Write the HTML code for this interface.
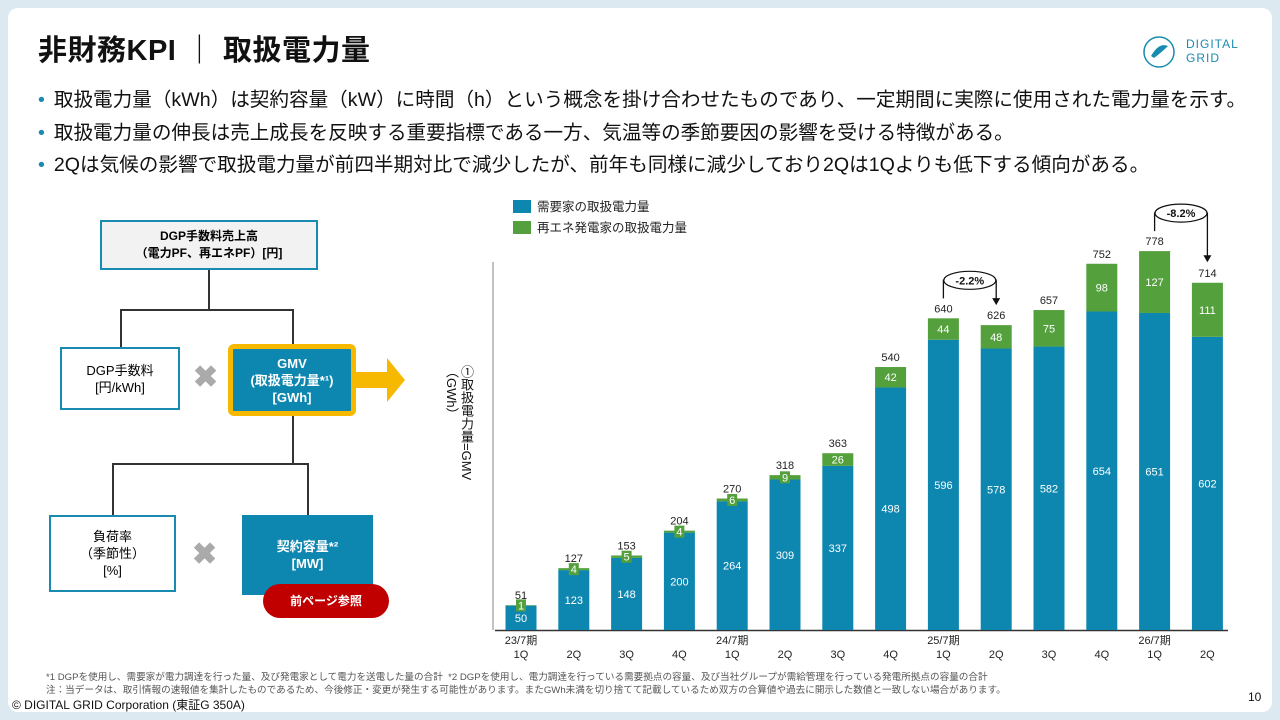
<!DOCTYPE html>
<html><head><meta charset="utf-8">
<style>
body{margin:0;width:1280px;height:720px;overflow:hidden;background:#dce9f1;font-family:"Liberation Sans","Noto Sans CJK JP",sans-serif;position:relative}
.card{position:absolute;left:8px;top:8px;width:1264px;height:704px;background:#fff;border-radius:10px}
.abs{position:absolute}
.title{left:38px;top:27px;font-size:29px;font-weight:bold;color:#111;letter-spacing:0.5px}
.bul{left:38px;font-size:19.6px;color:#111;white-space:nowrap}
.bul:before{content:"•";color:#1a8bb0;margin-right:9px}
.box{position:absolute;box-sizing:border-box;display:flex;align-items:center;justify-content:center;text-align:center;font-size:13px;line-height:17px}
.ln{position:absolute;background:#333}
.x{position:absolute;font-size:30px;color:#aaa;font-weight:bold}
</style></head><body>
<div class="card"></div>
<div class="abs title">非財務KPI&nbsp;｜&nbsp;取扱電力量</div>
<div class="abs bul" style="top:83px">取扱電力量（kWh）は契約容量（kW）に時間（h）という概念を掛け合わせたものであり、一定期間に実際に使用された電力量を示す。</div>
<div class="abs bul" style="top:116px">取扱電力量の伸長は売上成長を反映する重要指標である一方、気温等の季節要因の影響を受ける特徴がある。</div>
<div class="abs bul" style="top:148px">2Qは気候の影響で取扱電力量が前四半期対比で減少したが、前年も同様に減少しており2Qは1Qよりも低下する傾向がある。</div>
<div class="abs" style="left:1142px;top:30px;width:100px;height:45px">
<svg width="36" height="40" style="position:absolute;left:0;top:2px"><circle cx="17" cy="20" r="15" fill="none" stroke="#1a8bb0" stroke-width="1.5"/><path d="M9 24 Q17 10 26 14 Q20 20 12 26Z" fill="#1a8bb0"/></svg>
<div style="position:absolute;left:44px;top:7px;color:#1a8bb0;font-size:12px;line-height:14px;letter-spacing:1px">DIGITAL<br>GRID</div></div>

<!-- diagram -->
<div class="box" style="left:100px;top:220px;width:218px;height:50px;background:#f2f2f2;border:2px solid #1a8bb0;font-weight:bold;font-size:12px">DGP手数料売上高<br>（電力PF、再エネPF）[円]</div>
<div class="ln" style="left:208px;top:270px;width:1.5px;height:40px"></div>
<div class="ln" style="left:120px;top:309px;width:173px;height:1.5px"></div>
<div class="ln" style="left:120px;top:309px;width:1.5px;height:38px"></div>
<div class="ln" style="left:292px;top:309px;width:1.5px;height:36px"></div>
<div class="box" style="left:60px;top:347px;width:120px;height:63px;border:2px solid #1a8bb0">DGP手数料<br>[円/kWh]</div>
<div class="x" style="left:193px;top:360px">✖</div>
<div class="box" style="left:228px;top:344px;width:128px;height:72px;background:#0e87b0;border:5px solid #f7b900;border-radius:6px;color:#fff;font-weight:bold">GMV<br>(取扱電力量*¹)<br>[GWh]</div>
<svg class="abs" style="left:355px;top:356px" width="52" height="50"><path d="M0 16 H32 V2 L50 24 L32 46 V32 H0Z" fill="#f7b900"/></svg>
<div class="ln" style="left:292px;top:416px;width:1.5px;height:48px"></div>
<div class="ln" style="left:112px;top:463px;width:196px;height:1.5px"></div>
<div class="ln" style="left:112px;top:463px;width:1.5px;height:52px"></div>
<div class="ln" style="left:307px;top:463px;width:1.5px;height:52px"></div>
<div class="box" style="left:49px;top:515px;width:127px;height:77px;border:2px solid #1a8bb0">負荷率<br>（季節性）<br>[%]</div>
<div class="x" style="left:192px;top:537px">✖</div>
<div class="box" style="left:242px;top:515px;width:131px;height:80px;background:#0e87b0;color:#fff;font-weight:bold">契約容量*²<br>[MW]</div>
<div class="box" style="left:263px;top:584px;width:126px;height:34px;background:#c00000;border-radius:17px;color:#fff;font-weight:bold;font-size:12px">前ページ参照</div>

<!-- chart -->
<svg class="abs" style="left:0;top:0" width="1280" height="720" id="chart">
<rect x="513" y="200" width="18" height="13" fill="#0e87b0"/>
<text x="537" y="211" font-size="12.5" fill="#222">需要家の取扱電力量</text>
<rect x="513" y="221" width="18" height="13" fill="#53a03c"/>
<text x="537" y="232" font-size="12.5" fill="#222">再エネ発電家の取扱電力量</text>
<line x1="493" y1="262" x2="493" y2="630" stroke="#999" stroke-width="1.2"/>
<line x1="495" y1="630.5" x2="1228" y2="630.5" stroke="#333" stroke-width="1.5"/>
<g id="bars"></g>
</svg>
<div class="abs" style="left:444px;top:365px;writing-mode:vertical-rl;font-size:13px;line-height:15px;color:#111">①取扱電力量=GMV<br>（GWh）</div>

<div class="abs" style="left:46px;top:669px;font-size:9.6px;color:#555;white-space:nowrap">*1 DGPを使用し、需要家が電力調達を行った量、及び発電家として電力を送電した量の合計 &nbsp;*2 DGPを使用し、電力調達を行っている需要拠点の容量、及び当社グループが需給管理を行っている発電所拠点の容量の合計</div>
<div class="abs" style="left:46px;top:682px;font-size:9.6px;color:#555;white-space:nowrap">注：当データは、取引情報の速報値を集計したものであるため、今後修正・変更が発生する可能性があります。またGWh未満を切り捨てて記載しているため双方の合算値や過去に開示した数値と一致しない場合があります。</div>
<div class="abs" style="left:12px;top:696px;font-size:12px;color:#111">© DIGITAL GRID Corporation (東証G 350A)</div>
<div class="abs" style="left:1248px;top:690px;font-size:12px;color:#111">10</div>

<script>
const quarters=["1Q","2Q","3Q","4Q","1Q","2Q","3Q","4Q","1Q","2Q","3Q","4Q","1Q","2Q"];
const periods=["23/7期","","","","24/7期","","","","25/7期","","","","26/7期",""];
const demand=[50,123,148,200,264,309,337,498,596,578,582,654,651,602];
const renewable=[1,4,5,4,6,9,26,42,44,48,75,98,127,111];
const totals=[51,127,153,204,270,318,363,540,640,626,657,752,778,714];
const changes=[{from:8,to:9,label:"-2.2%"},{from:12,to:13,label:"-8.2%"}];
const NS="http://www.w3.org/2000/svg";
const g=document.getElementById('bars');
const base=630,k=0.487,bw=31;
const xs=i=>521+i*52.8;
const ys=v=>base-v*k;
function mk(t,a,txt){const e=document.createElementNS(NS,t);for(const n in a)e.setAttribute(n,a[n]);if(txt!=null)e.textContent=txt;g.appendChild(e);return e;}
demand.forEach((d,i)=>{
 const cx=xs(i),r=renewable[i];
 const b=mk('rect',{x:cx-bw/2,y:ys(d),width:bw,height:d*k,fill:'#0e87b0'});
 
 
 const gr=mk('rect',{x:cx-bw/2,y:ys(d+r),width:bw,height:r*k,fill:'#53a03c'});
 
 
 mk('text',{x:cx,y:ys(d/2)+4,'font-size':11,fill:'#fff','text-anchor':'middle'},d);
 const gy=ys(d+r/2);
 if(r*k<12) mk('rect',{x:cx-5,y:gy-6,width:10,height:12,fill:'#53a03c'});
 mk('text',{x:cx,y:gy+4,'font-size':11,fill:'#fff','text-anchor':'middle'},r);
 mk('text',{x:cx,y:ys(d+r)-6,'font-size':11,fill:'#222','text-anchor':'middle'},totals[i]);
 mk('text',{x:cx,y:644,'font-size':11,fill:'#222','text-anchor':'middle'},periods[i]);
 mk('text',{x:cx,y:658,'font-size':11,fill:'#222','text-anchor':'middle'},quarters[i]);
});
changes.forEach(c=>{
 const x1=xs(c.from),x2=xs(c.to);
 const topY=Math.min(ys(totals[c.from]),ys(totals[c.to]))-38;
 const mx=(x1+x2)/2;
 mk('path',{d:`M${x1} ${ys(totals[c.from])-20} V${topY} H${x2} V${ys(totals[c.to])-22}`,fill:'none',stroke:'#111','stroke-width':1.3});
 mk('path',{d:`M${x2-4} ${ys(totals[c.to])-27} L${x2+4} ${ys(totals[c.to])-27} L${x2} ${ys(totals[c.to])-20}Z`,fill:'#111'});
 mk('ellipse',{cx:mx,cy:topY,rx:26,ry:9,fill:'#fff',stroke:'#111','stroke-width':1.2});
 mk('text',{x:mx,y:topY+4,'font-size':11,'font-weight':'bold',fill:'#111','text-anchor':'middle'},c.label);
});
</script>
</body></html>
